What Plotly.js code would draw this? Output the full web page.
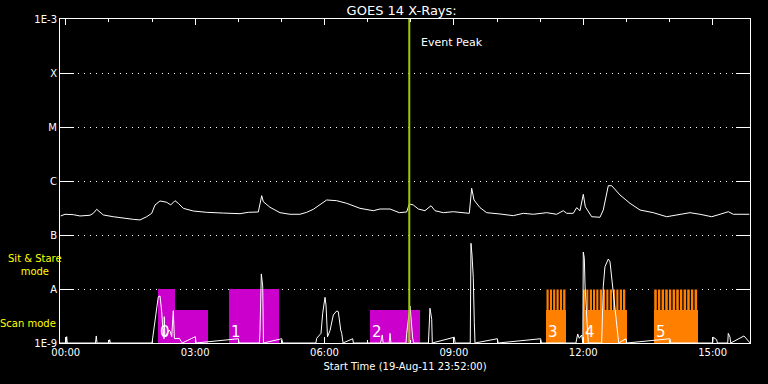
<!DOCTYPE html>
<html>
<head>
<meta charset="utf-8">
<script src="https://cdn.plot.ly/plotly-3.0.1.min.js"></script>
<style>html,body{margin:0;padding:0;background:#000;}#chart{width:768px;height:384px;}</style>
</head>
<body>
<div id="chart"></div>
<script>
// Hours after 00:00 on 20-Aug-11 (start time 19-Aug-11 23:52:00)
const goesT = [-0.117,-0.017,0.175,0.330,0.562,0.639,0.718,0.794,0.871,1.103,
  1.334,1.566,1.722,1.877,1.993,2.070,2.186,2.341,2.434,2.533,
  2.610,2.726,2.958,3.268,3.653,4.041,4.233,4.465,4.544,4.581,
  4.736,4.968,5.200,5.432,5.587,5.740,6.051,6.283,6.515,6.823,
  7.132,7.287,7.519,7.735,7.906,7.966,8.059,8.175,8.330,8.470,
  8.562,8.755,8.987,9.258,9.358,9.413,9.467,9.606,9.761,10.070,
  10.378,10.610,10.842,11.152,11.384,11.537,11.616,11.769,11.848,11.925,
  12.001,12.048,12.117,12.196,12.388,12.464,12.581,12.660,12.852,13.084,
  13.316,13.624,13.935,14.243,14.475,14.707,14.979,15.171,15.364,15.480,
  15.851];
const goesFlux = [2.25e-7,2.42e-7,2.38e-7,2.25e-7,2.32e-7,2.52e-7,2.99e-7,2.70e-7,2.35e-7,2.18e-7,
  2.04e-7,1.95e-7,1.90e-7,2.18e-7,2.52e-7,3.60e-7,4.27e-7,4.04e-7,3.60e-7,4.32e-7,
  3.86e-7,3.12e-7,2.78e-7,2.63e-7,2.55e-7,2.48e-7,2.63e-7,2.67e-7,5.35e-7,4.14e-7,
  3.26e-7,2.59e-7,2.42e-7,2.42e-7,2.63e-7,2.99e-7,4.45e-7,4.32e-7,3.86e-7,3.12e-7,
  2.82e-7,3.03e-7,3.03e-7,2.59e-7,2.67e-7,3.75e-7,3.60e-7,3.03e-7,2.82e-7,3.49e-7,
  2.82e-7,2.59e-7,2.70e-7,2.52e-7,2.52e-7,7.33e-7,4.45e-7,3.21e-7,2.59e-7,2.45e-7,
  2.28e-7,2.52e-7,2.42e-7,2.59e-7,2.42e-7,2.82e-7,2.52e-7,2.52e-7,3.21e-7,2.82e-7,
  5.67e-7,3.34e-7,2.70e-7,2.18e-7,2.13e-7,2.90e-7,8.18e-7,8.18e-7,5.51e-7,3.86e-7,
  2.90e-7,2.59e-7,2.18e-7,2.45e-7,2.59e-7,2.42e-7,2.18e-7,2.42e-7,2.70e-7,2.42e-7,
  2.42e-7];

const lowT = [-0.13,0.01,0.022,0.035,0.69,0.708,0.725,1.00,1.019,1.035,
  2.000,2.086,2.123,2.146,2.186,2.202,2.225,2.248,2.262,2.278,
  2.285,2.30,2.401,2.424,2.457,2.494,2.503,2.52,2.633,2.70,
  3.004,3.02,4.001,4.02,4.49,4.504,4.535,4.567,4.585,5.008,
  5.03,5.80,5.819,5.919,5.958,6.012,6.035,6.07,6.128,6.204,
  6.283,6.320,6.376,6.399,6.43,6.654,6.67,7.30,7.340,7.36,
  7.50,7.519,7.54,7.89,7.906,7.983,8.045,8.07,8.41,8.423,
  8.446,8.486,8.50,9.010,9.03,9.38,9.390,9.397,9.420,9.450,
  9.474,9.490,10.007,10.03,11.013,11.03,11.83,11.848,11.871,11.908,
  11.964,11.99,12.001,12.025,12.041,12.080,12.117,12.427,12.464,12.503,
  12.543,12.581,12.620,12.660,12.697,12.752,12.789,12.822,12.991,13.01,
  14.012,14.03,15.00,15.015,15.094,15.11,15.35,15.363,15.403,15.42,
  15.727,15.804,15.87];
const lowV = [1e-9,1e-9,1.31e-9,1e-9,1e-9,1.35e-9,1e-9,1e-9,1.15e-9,1e-9,
  1e-9,3.60e-9,5.51e-9,7.20e-9,7.42e-9,6.07e-9,3.80e-9,2.00e-9,1.74e-9,1.2e-9,
  3.07e-9,1.3e-9,1.74e-9,1.62e-9,1.31e-9,3.97e-9,3.07e-9,1.2e-9,1.22e-9,1e-9,
  1.31e-9,1e-9,1.2e-9,1e-9,1e-9,1.62e-9,1.90e-8,1.14e-8,1e-9,1.2e-9,
  1e-9,1e-9,1.22e-9,1.51e-9,3.55e-9,7.02e-9,5.06e-9,1.3e-9,1.7e-9,3.30e-9,
  3.92e-9,3.8e-9,1.74e-9,1.51e-9,1e-9,1.2e-9,1e-9,1e-9,1.41e-9,1e-9,
  1e-9,1.51e-9,1e-9,1e-9,1.51e-9,4.84e-9,1.22e-9,1e-9,1e-9,1.51e-9,
  4.40e-9,2.75e-9,1e-9,1.28e-9,1e-9,1e-9,1.58e-8,7.02e-8,4.27e-8,1.65e-8,
  2.42e-9,1e-9,1.2e-9,1e-9,1.2e-9,1e-9,1e-9,1.28e-9,1.47e-9,1.22e-9,
  1.41e-9,1e-9,4.84e-8,3.70e-8,1.19e-8,3.07e-9,1e-9,1e-9,1.10e-8,2.59e-8,
  3.20e-8,3.59e-8,3.20e-8,1.58e-8,8.91e-9,4.08e-9,1.74e-9,1e-9,1.2e-9,1e-9,
  1.2e-9,1e-9,1e-9,1.28e-9,1.15e-9,1e-9,1e-9,1.51e-9,1.28e-9,1e-9,
  1.35e-9,1.14e-9,1e-9];

// Scan-mode boxes (magenta): start, end (hours), top level
const scanStart = [2.139, 2.533, 3.786, 7.055];
const scanEnd   = [2.533, 3.299, 4.945, 8.215];
const scanTop   = [1e-8, 4.1e-9, 1e-8, 4.1e-9];

// Sit & stare rasters (orange): base box spans and individual raster centres
const ssBoxStart = [11.136, 11.983, 13.635];
const ssBoxEnd   = [11.600, 13.020, 14.655];
const ssBoxTop   = 4.1e-9;
const ssCentres  = [11.175,11.252,11.329,11.407,11.484,11.561,
  12.021,12.098,12.176,12.253,12.330,12.408,12.485,12.562,12.640,12.717,12.794,12.872,12.949,
  13.677,13.762,13.847,13.932,14.017,14.102,14.187,14.272,14.357,14.442,14.527,14.612];
const ssWidths   = [0.0773,0.0773,0.0773,0.0773,0.0773,0.0773,
  0.0773,0.0773,0.0773,0.0773,0.0773,0.0773,0.0773,0.0773,0.0773,0.0773,0.0773,0.0773,0.0773,
  0.085,0.085,0.085,0.085,0.085,0.085,0.085,0.085,0.085,0.085,0.085,0.085];
const ssTop = 1e-8;

const boxLabels = ['0','1','2','3','4','5'];
const boxLabelT = [2.139, 3.786, 7.055, 11.136, 11.983, 13.635];

const eventPeakT = 7.966;
const floorV = 1e-9;

const tickHours = [0,3,6,9,12,15];
const tickText = ['00:00','03:00','06:00','09:00','12:00','15:00'];
const yTickVals = [1e-9,1e-8,1e-7,1e-6,1e-5,1e-4,1e-3];
const yTickText = ['1E-9','A','B','C','M','X','1E-3'];

const FONT = 'DejaVu Sans, sans-serif';

const traces = [];
traces.push({
  type:'bar',
  x: scanStart.map((s,i)=>(s+scanEnd[i])/2),
  width: scanStart.map((s,i)=>scanEnd[i]-s),
  base: scanStart.map(()=>floorV),
  y: scanTop.map(t=>t-floorV),
  marker:{color:'#cc00cc', line:{width:0}},
  hoverinfo:'skip', showlegend:false
});
traces.push({
  type:'bar',
  x: ssCentres,
  width: ssWidths,
  base: ssCentres.map(()=>floorV),
  y: ssCentres.map(()=>ssTop-floorV),
  marker:{color:'#ff8000', line:{color:'#000000', width:1}},
  hoverinfo:'skip', showlegend:false
});
traces.push({
  type:'bar',
  x: ssBoxStart.map((s,i)=>(s+ssBoxEnd[i])/2),
  width: ssBoxStart.map((s,i)=>ssBoxEnd[i]-s),
  base: ssBoxStart.map(()=>floorV),
  y: ssBoxStart.map(()=>ssBoxTop-floorV),
  marker:{color:'#ff8000', line:{width:0}},
  hoverinfo:'skip', showlegend:false
});
traces.push({
  type:'scatter', mode:'lines', x: lowT, y: lowV,
  line:{color:'#ffffff', width:1}, hoverinfo:'skip', showlegend:false
});
traces.push({
  type:'scatter', mode:'lines', x: goesT, y: goesFlux,
  line:{color:'#ffffff', width:1}, hoverinfo:'skip', showlegend:false
});
traces.push({
  type:'scatter', mode:'lines', x:[eventPeakT, eventPeakT], y:[1e-9, 1e-3],
  line:{color:'#9acd00', width:2}, hoverinfo:'skip', showlegend:false
});

const annotations = [
  {text:'Event Peak', xref:'x', x:eventPeakT, xshift:10, xanchor:'left', yref:'paper', y:0.926, yanchor:'middle',
   showarrow:false, font:{family:FONT, size:11, color:'#ffffff'}},
  {text:'Sit & Stare<br>mode', xref:'paper', x:-0.036, xanchor:'center', yref:'paper', y:0.24, yanchor:'middle',
   showarrow:false, align:'center', font:{family:FONT, size:10, color:'#ffff00'}},
  {text:'Scan mode', xref:'paper', x:-0.0457, xanchor:'center', yref:'paper', y:0.059, yanchor:'middle',
   showarrow:false, font:{family:FONT, size:10, color:'#ffff00'}}
];
boxLabels.forEach((lab,i)=>{
  annotations.push({text:lab, xref:'x', x:boxLabelT[i], xanchor:'left', xshift:0, yref:'paper', y:0.033, yanchor:'middle',
    showarrow:false, font:{family:FONT, size:15, color:'#ffffff'}});
});

const layout = {
  width:768, height:384,
  paper_bgcolor:'#000000', plot_bgcolor:'#000000',
  margin:{l:60, r:18, t:19, b:41, pad:0},
  barmode:'overlay', bargap:0,
  font:{family:FONT, color:'#ffffff', size:10},
  title:{text:'GOES 14 X-Rays:', x:0.523, xanchor:'center', xref:'container', y:0.974, yanchor:'middle', yref:'container',
    font:{family:FONT, size:13, color:'#ffffff'}},
  xaxis:{
    range:[-0.1333, 15.8667], showgrid:false, zeroline:false,
    showline:true, linecolor:'#ffffff', linewidth:1, mirror:'allticks',
    ticks:'inside', ticklen:6, tickcolor:'#ffffff', tickwidth:1,
    tickvals:tickHours, ticktext:tickText,
    minor:{dtick:1, tick0:0, ticks:'inside', ticklen:3, tickcolor:'#ffffff', showgrid:false},
    tickfont:{family:FONT, size:10, color:'#ffffff'},
    title:{text:'Start Time (19-Aug-11 23:52:00)', standoff:5, font:{family:FONT, size:10, color:'#ffffff'}}
  },
  yaxis:{
    type:'log', range:[-9,-3], zeroline:false,
    showline:true, linecolor:'#ffffff', linewidth:1, mirror:'allticks',
    ticks:'inside', ticklen:14, tickcolor:'#ffffff', tickwidth:1,
    tickvals:yTickVals, ticktext:yTickText,
    showgrid:true, gridcolor:'#ffffff', gridwidth:1, griddash:'1px,5px',
    tickfont:{family:FONT, size:10, color:'#ffffff'}
  },
  annotations: annotations,
  showlegend:false
};

Plotly.newPlot('chart', traces, layout, {staticPlot:true, displayModeBar:false});
</script>
</body>
</html>
